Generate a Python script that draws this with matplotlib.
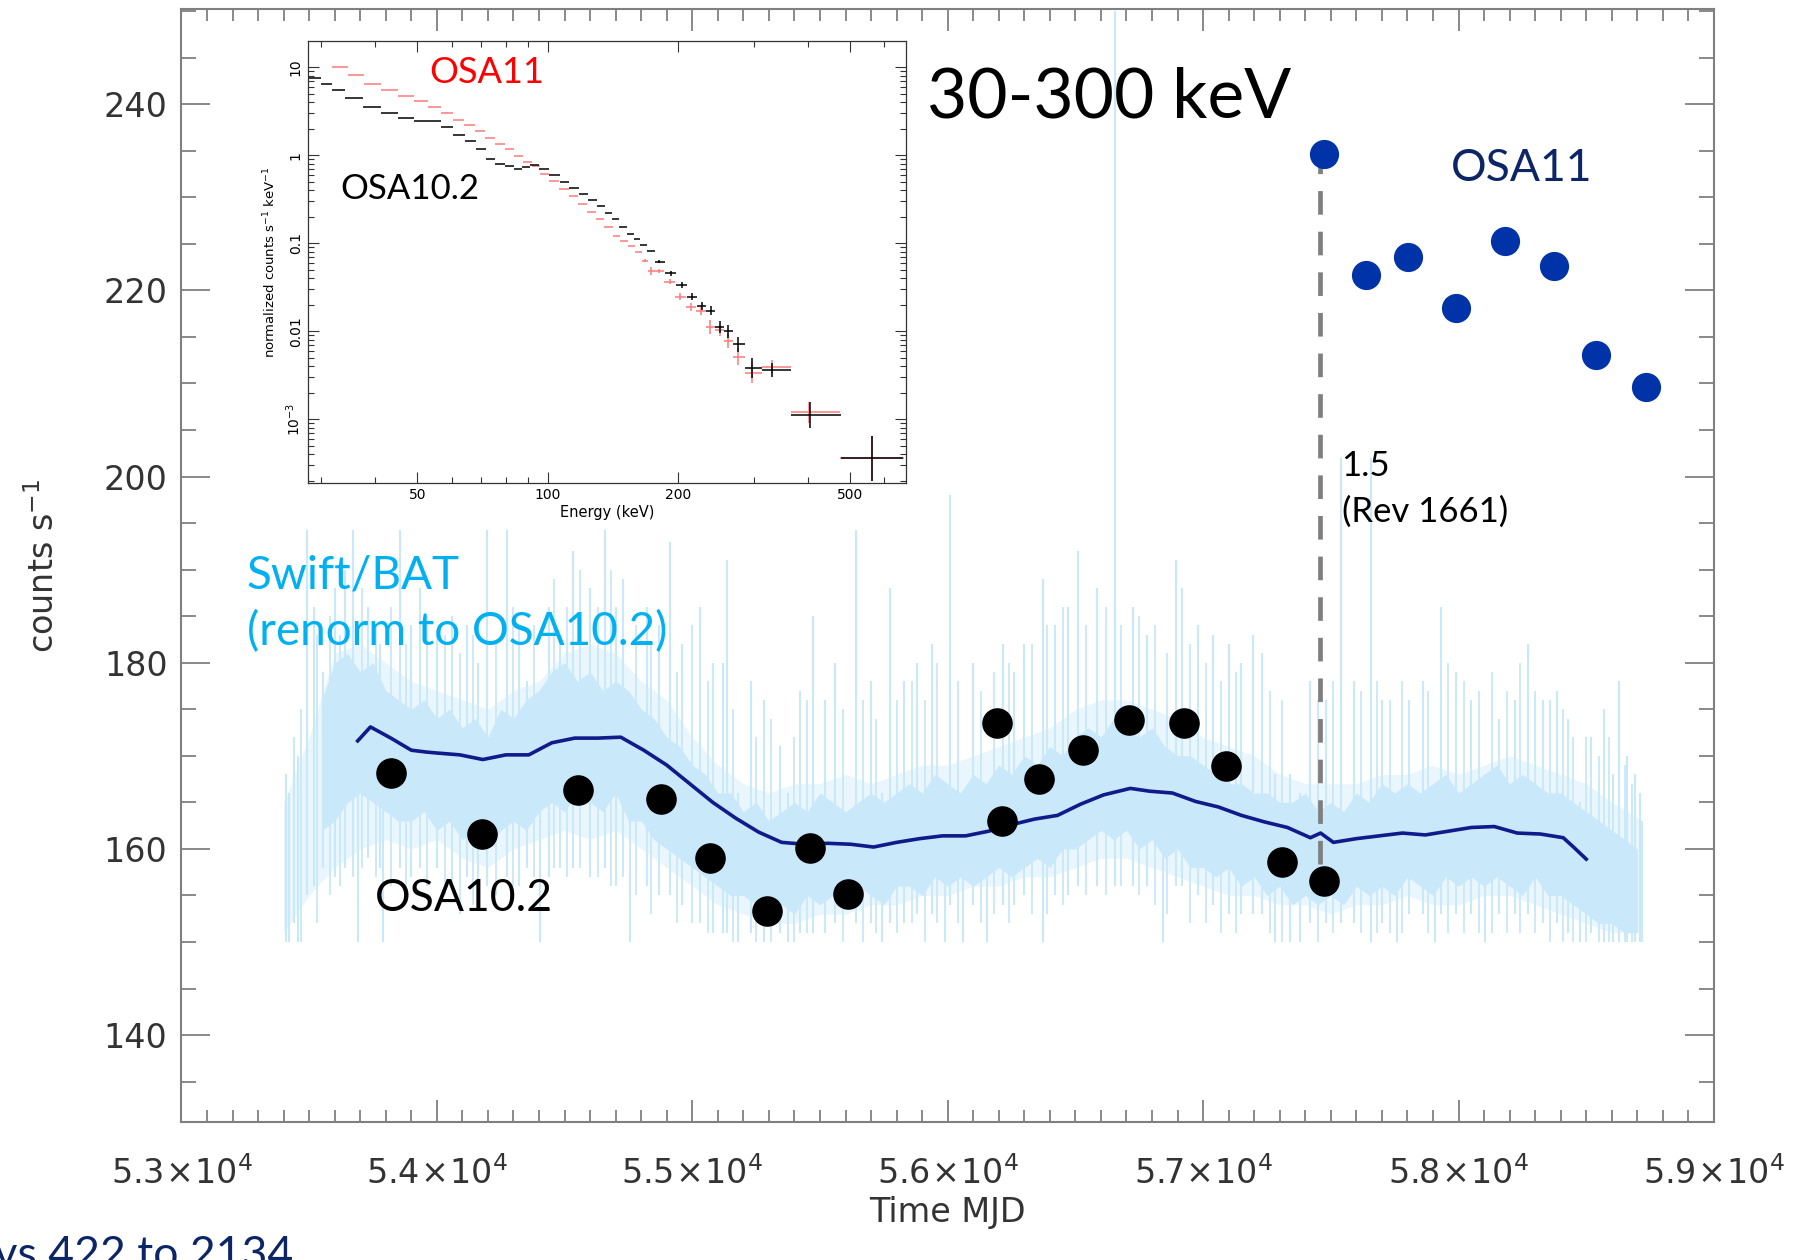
import matplotlib
matplotlib.use("Agg")
import matplotlib.pyplot as plt
from matplotlib.ticker import MultipleLocator, FuncFormatter, FixedLocator, NullFormatter
from matplotlib.patches import Rectangle
import numpy as np

plt.rcParams['font.family'] = ['DejaVu Sans']

# ---- Swift/BAT light curve (renormalised) ----
# outer (sparse) envelope
bat_x = [53400, 53500, 53600, 53700, 53800, 53900, 54000, 54100, 54200, 54300,
         54400, 54500, 54600, 54700, 54800, 54900, 55000, 55100, 55200, 55300,
         55400, 55500, 55600, 55700, 55800, 55900, 56000, 56100, 56200, 56300,
         56400, 56500, 56600, 56700, 56800, 56900, 57000, 57100, 57200, 57300,
         57400, 57500, 57600, 57700, 57800, 57900, 58000, 58100, 58200, 58300,
         58400, 58500, 58600, 58720]
bat_lo = [151, 155, 158, 160, 161, 160, 161, 159, 158, 160,
          161, 162, 161, 162, 160, 158, 156, 154, 153, 152,
          152, 153, 153, 154, 154, 155, 155, 156, 156, 157,
          157, 158, 159, 159, 158, 157, 156, 155, 155, 154,
          154, 153, 154, 154, 155, 154, 154, 155, 155, 154,
          153, 152, 151, 151]
bat_hi = [165, 172, 181, 182, 180, 178, 177, 176, 175, 177,
          178, 181, 182, 181, 178, 176, 172, 169, 167, 166,
          167, 167, 168, 167, 168, 169, 169, 170, 171, 172,
          173, 175, 176, 176, 175, 174, 172, 171, 170, 168,
          167, 167, 167, 168, 168, 169, 168, 169, 170, 169,
          168, 167, 165, 163]

# dense core of the curve, every 50 d
core_x = [53550, 53600, 53650, 53700, 53750, 53800, 53850, 53900, 53950, 54000,
          54050, 54100, 54150, 54200, 54250, 54300, 54350, 54400, 54450, 54500,
          54550, 54600, 54650, 54700, 54750, 54800, 54850, 54900, 54950, 55000,
          55050, 55100, 55150, 55200, 55250, 55300, 55350, 55400, 55450, 55500,
          55550, 55600, 55650, 55700, 55750, 55800, 55850, 55900, 55950, 56000,
          56050, 56100, 56150, 56200, 56250, 56300, 56350, 56400, 56450, 56500,
          56550, 56600, 56650, 56700, 56750, 56800, 56850, 56900, 56950, 57000,
          57050, 57100, 57150, 57200, 57250, 57300, 57350, 57400, 57450, 57500,
          57550, 57600, 57650, 57700, 57750, 57800, 57850, 57900, 57950, 58000,
          58050, 58100, 58150, 58200, 58250, 58300, 58350, 58400, 58450, 58500,
          58550, 58600, 58650, 58700]
core_lo = [162, 163, 165, 166, 165, 164, 163, 163, 164, 162,
           163, 161, 162, 160, 162, 163, 162, 164, 165, 164,
           166, 165, 164, 166, 163, 163, 161, 160, 159, 158,
           157, 156, 155, 155, 154, 153, 154, 153, 155, 154,
           155, 154, 156, 155, 154, 156, 156, 155, 157, 156,
           157, 156, 157, 158, 157, 158, 159, 158, 160, 160,
           161, 162, 161, 162, 160, 161, 159, 160, 158, 158,
           157, 158, 156, 157, 155, 156, 154, 155, 154, 155,
           154, 156, 155, 156, 155, 157, 156, 155, 157, 156,
           157, 156, 157, 156, 155, 157, 155, 155, 154, 153,
           152, 152, 151, 151]
core_hi = [176, 180, 181, 179, 180, 177, 176, 175, 176, 174,
           175, 173, 174, 172, 175, 174, 176, 177, 179, 180,
           178, 179, 177, 178, 177, 175, 174, 172, 171, 169,
           168, 166, 166, 164, 165, 163, 164, 165, 164, 166,
           165, 164, 165, 166, 165, 166, 167, 166, 168, 167,
           166, 168, 167, 169, 168, 170, 169, 171, 170, 172,
           173, 172, 174, 173, 172, 173, 171, 170, 170, 169,
           168, 167, 167, 166, 166, 165, 165, 166, 164, 165,
           164, 166, 165, 167, 166, 167, 166, 167, 168, 166,
           167, 168, 169, 167, 168, 167, 166, 166, 165, 164,
           163, 162, 161, 160]

# individual excursions of the curve (MJD, low, high)
spk_x = [53410, 53420, 53440, 53457, 53491, 53520, 53555, 53600, 53640, 53672,
         53692, 53730, 53778, 53790, 53856, 53900, 53934, 54000, 54060, 54118,
         54160, 54196, 54274, 54320, 54352, 54404, 54440, 54481, 54532, 54600,
         54657, 54700, 54728, 54756, 54822, 54870, 54912, 54960, 55029, 55080,
         55120, 55135, 55178, 55230, 55280, 55343, 55374, 55420, 55473, 55520,
         55560, 55640, 55700, 55742, 55773, 55830, 55880, 55937, 55989, 56008,
         56059, 56100, 56153, 56215, 56260, 56300, 56372, 56420, 56470, 56509,
         56583, 56655, 56724, 56780, 56842, 56895, 56919, 56980, 57040, 57100,
         57150, 57196, 57230, 57280, 57339, 57378, 57420, 57480, 57541, 57590,
         57659, 57700, 57761, 57808, 57860, 57906, 57933, 57992, 58050, 58102,
         58160, 58220, 58270, 58330, 58387, 58430, 58474, 58520, 58570, 58603,
         58630, 58660, 58690, 58709]
spk_lo = [150, 150, 152, 150, 155, 156, 158, 157, 158, 157,
          150, 159, 158, 150, 158, 157, 158, 158, 156, 157,
          155, 156, 157, 156, 158, 150, 157, 158, 158, 157,
          158, 156, 157, 150, 156, 155, 155, 154, 152, 151,
          151, 151, 150, 151, 150, 151, 150, 151, 151, 151,
          152, 152, 152, 150, 152, 152, 153, 153, 150, 154,
          150, 154, 150, 154, 154, 155, 150, 155, 155, 156,
          156, 156, 156, 156, 150, 156, 156, 155, 154, 153,
          153, 153, 153, 150, 150, 150, 152, 152, 152, 152,
          150, 152, 150, 153, 153, 150, 153, 153, 153, 150,
          153, 153, 153, 152, 152, 151, 150, 151, 150, 150,
          150, 150, 150, 150]
spk_hi = [168, 166, 172, 170, 195, 186, 179, 188, 190, 195,
          170, 186, 182, 168, 195, 184, 188, 183, 185, 184,
          180, 195, 195, 184, 178, 168, 186, 183, 192, 188,
          195, 186, 189, 170, 186, 184, 193, 182, 186, 180,
          180, 191, 166, 178, 176, 171, 166, 177, 185, 176,
          180, 195, 178, 166, 188, 178, 180, 182, 167, 198,
          166, 180, 166, 182, 179, 182, 189, 184, 186, 192,
          188, 250, 186, 183, 170, 191, 188, 184, 183, 182,
          180, 183, 181, 168, 168, 166, 178, 176, 202, 178,
          202, 176, 166, 176, 178, 166, 186, 179, 176, 168,
          174, 176, 182, 176, 177, 174, 165, 172, 175, 168,
          178, 170, 168, 166]

spk2_x = [53470, 53530, 53580, 53620, 53705, 53760, 53820, 53880, 53960, 54030,
          54090, 54140, 54230, 54300, 54380, 54460, 54510, 54560, 54630, 54680,
          54780, 54840, 54940, 55000, 55060, 55160, 55250, 55310, 55400, 55450,
          55590, 55670, 55720, 55800, 55860, 55910, 55960, 56040, 56130, 56180,
          56240, 56330, 56390, 56450, 56540, 56620, 56680, 56750, 56810, 56860,
          56950, 57010, 57070, 57130, 57260, 57310, 57450, 57510, 57620, 57680,
          57730, 57780, 57880, 57960, 58020, 58080, 58130, 58190, 58240, 58300,
          58360, 58410, 58450, 58500, 58550, 58590, 58650, 58680, 58720]
spk2_lo = [150, 152, 155, 156, 158, 157, 156, 155, 156, 155,
           153, 154, 155, 156, 157, 158, 157, 158, 157, 156,
           155, 153, 152, 152, 151, 150, 150, 150, 150, 151,
           150, 150, 151, 151, 152, 150, 152, 152, 152, 153,
           152, 153, 153, 154, 155, 155, 156, 155, 154, 153,
           152, 152, 151, 151, 151, 150, 150, 151, 151, 151,
           151, 151, 151, 151, 151, 151, 151, 151, 151, 151,
           150, 150, 150, 150, 150, 150, 150, 150, 150]
spk2_hi = [175, 183, 185, 183, 188, 184, 186, 182, 185, 183,
           181, 183, 182, 186, 184, 189, 186, 190, 186, 190,
           184, 182, 179, 184, 178, 175, 172, 174, 172, 176,
           175, 176, 174, 176, 178, 176, 180, 178, 177, 179,
           180, 182, 184, 186, 184, 186, 184, 185, 184, 181,
           182, 180, 178, 179, 177, 176, 176, 178, 177, 178,
           176, 178, 177, 180, 178, 177, 179, 177, 180, 177,
           176, 175, 172, 172, 170, 172, 169, 167, 163]

# running mean of BAT
sm_x = [53690, 53740, 53820, 53900, 53960, 54000, 54090, 54180, 54270, 54360,
        54450, 54540, 54630, 54720, 54810, 54900, 54990, 55080, 55170, 55260,
        55350, 55440, 55530, 55620, 55710, 55800, 55890, 55980, 56070, 56160,
        56250, 56340, 56430, 56520, 56610, 56715, 56790, 56880, 56970, 57060,
        57150, 57240, 57330, 57420, 57460, 57510, 57600, 57690, 57780, 57870,
        57960, 58050, 58140, 58230, 58320, 58410, 58450, 58500]
sm_y = [171.6, 173.1, 171.9, 170.6, 170.4, 170.3, 170.1, 169.6, 170.1, 170.1,
        171.4, 171.9, 171.9, 172.0, 170.6, 169.0, 167.0, 165.0, 163.3, 161.8,
        160.7, 160.5, 160.6, 160.5, 160.2, 160.7, 161.1, 161.4, 161.4, 161.9,
        162.6, 163.2, 163.6, 164.8, 165.8, 166.5, 166.2, 166.0, 165.1, 164.5,
        163.6, 162.9, 162.3, 161.2, 161.7, 160.7, 161.1, 161.4, 161.7, 161.5,
        161.9, 162.3, 162.4, 161.7, 161.6, 161.2, 160.2, 158.9]

# ISGRI 30-300 keV fluxes
osa10_x = [53822, 54177, 54554, 54878, 55071, 55291, 55462, 55610, 56194, 56212,
           56356, 56531, 56711, 56926, 57088, 57308, 57474]
osa10_y = [168.1, 161.6, 166.3, 165.4, 159.0, 153.3, 160.1, 155.2, 173.5, 163.0,
           167.5, 170.6, 173.8, 173.5, 168.9, 158.6, 156.5]
osa11_x = [57474, 57636, 57802, 57991, 58180, 58373, 58539, 58732]
osa11_y = [234.6, 221.6, 223.6, 218.1, 225.3, 222.6, 213.1, 209.6]

rev1661_mjd = 57457
rev1661_lo, rev1661_hi = 158.4, 233.4

# ---- inset spectra ----
blk_E = [28.9, 30.9, 32.7, 35.6, 39.4, 43.2, 47.0, 51.1, 55.0, 58.5,
         62.6, 66.3, 70.2, 73.9, 77.7, 81.6, 85.5, 89.1, 93.3, 98.0,
         103.8, 109.4, 114.8, 121.1, 126.8, 132.8, 138.2, 143.7, 149.5, 155.1,
         160.9, 166.6, 172.5, 181.1, 192.3, 204.1, 215.3, 227.1, 238.4, 249.6,
         261.4, 275.6, 296.1, 330.7, 404.4, 562.6]
blk_F = [7.5, 6.47, 5.54, 4.49, 3.50, 3.03, 2.62, 2.44, 2.48, 2.10,
         1.72, 1.45, 1.165, 0.913, 0.787, 0.753, 0.70, 0.741, 0.78, 0.70,
         0.59, 0.50, 0.424, 0.366, 0.307, 0.263, 0.223, 0.19, 0.153, 0.129,
         0.113, 0.095, 0.082, 0.062, 0.0457, 0.0337, 0.0248, 0.0193, 0.0171, 0.0112,
         0.0100, 0.0071, 0.00382, 0.00363, 0.00113, 3.6e-4]
blk_dex = [0] * 33 + [0.02, 0.03, 0.03, 0.04, 0.045, 0.05, 0.07, 0.07, 0.085,
                      0.11, 0.08, 0.15, 0.25]
red_E = [33.1, 36.0, 39.6, 43.1, 47.1, 51.3, 54.7, 58.5, 62.2, 65.9,
         69.8, 73.5, 77.6, 81.6, 85.9, 89.9, 94.0, 98.2, 103.0, 109.4,
         114.8, 120.5, 126.8, 132.2, 138.2, 144.7, 149.8, 156.2, 162.0, 167.8,
         172.9, 180.6, 191.8, 202.7, 214.8, 226.5, 237.8, 249.6, 261.4, 275.6,
         296.1, 330.7, 400.7, 562.6]
red_F = [10.1, 8.19, 6.53, 5.54, 4.77, 4.12, 3.5, 3.03, 2.55, 2.2,
         1.88, 1.58, 1.35, 1.165, 0.98, 0.844, 0.747, 0.617, 0.505, 0.41,
         0.341, 0.277, 0.225, 0.19, 0.153, 0.12, 0.106, 0.0933, 0.0804, 0.0636,
         0.0486, 0.0488, 0.0367, 0.0246, 0.0191, 0.0171, 0.0112, 0.0103, 0.0078, 0.00518,
         0.0034, 0.00396, 0.0012, 3.6e-4]
red_dex = [0] * 29 + [0.02, 0.05, 0.02, 0.03, 0.04, 0.045, 0.05, 0.075, 0.06,
                      0.08, 0.1, 0.12, 0.08, 0.12, 0.25]


def bin_err(E, F, dex):
    E = np.array(E); F = np.array(F); dex = np.array(dex)
    mid = np.sqrt(E[1:] * E[:-1])
    lo_edge = np.concatenate([[E[0] ** 2 / mid[0]], mid])
    hi_edge = np.concatenate([mid, [E[-1] ** 2 / mid[-1]]])
    xerr = [E - lo_edge, hi_edge - E]
    yerr = [F * (1 - 10 ** -dex), F * (10 ** dex - 1)]
    return E, F, xerr, yerr


light = '#c9e8f9'
pale = '#e9f6fd'
navy_txt = '#0b2566'

fig = plt.figure(figsize=(18, 12.6), dpi=100)
ax = fig.add_axes([0.1008, 0.1098, 0.8514, 0.8829])

ax.fill_between(bat_x, bat_lo, bat_hi, color=pale, lw=0, zorder=1)
ax.vlines(spk_x, spk_lo, spk_hi, color=light, lw=1.5, zorder=1)
ax.vlines(spk2_x, spk2_lo, spk2_hi, color=light, lw=1.3, zorder=1)
ax.fill_between(core_x, core_lo, core_hi, color=light, lw=0, zorder=1)
ax.plot(sm_x, sm_y, color='#101a8a', lw=2.6, zorder=3)
ax.vlines(rev1661_mjd, rev1661_lo, rev1661_hi, color='#7f7f7f', lw=3.4,
          linestyles=(0, (5, 3.6)), zorder=4)
ax.plot(osa10_x, osa10_y, 'o', ms=21, color='black', zorder=5)
ax.plot(osa11_x, osa11_y, 'o', ms=20, color='#0033a8', zorder=5)

ax.set_xlim(53000, 59000)
ax.set_ylim(130.7, 250.2)
ax.xaxis.set_major_locator(MultipleLocator(1000))
ax.xaxis.set_minor_locator(MultipleLocator(100))
ax.yaxis.set_major_locator(MultipleLocator(20))
ax.yaxis.set_minor_locator(MultipleLocator(5))
ax.xaxis.set_major_formatter(FuncFormatter(lambda v, p: r'$%.1f\!\times\!10^{4}$' % (v / 1e4)))

ax.tick_params(which='both', direction='in', top=True, right=True, color='#808080')
ax.tick_params(axis='y', which='major', length=21, width=1.3, pad=10,
               labelsize=24, labelcolor='#333333')
ax.tick_params(axis='y', which='minor', length=11, width=1.3)
ax.tick_params(axis='x', which='major', length=16, width=1.3, pad=25,
               labelsize=24, labelcolor='#333333')
ax.tick_params(axis='x', which='minor', length=8.5, width=1.3)
for s in ax.spines.values():
    s.set_color('#808080')
    s.set_linewidth(1.5)

fig.text(0.5264, 0.0375, 'Time MJD', ha='center', va='center', fontsize=24, color='#333333')
fig.text(0.0245, 0.5508, r'counts s$^{-1}$', ha='center', va='center', rotation=90,
         fontsize=24, color='#333333')

ax.text(55920, 238.6, '30-300 keV', fontsize=50, family='Lato', color='black', zorder=6)
ax.text(58247, 231.7, 'OSA11', fontsize=32, family='Lato', color=navy_txt,
        ha='center', zorder=6)
ax.text(57542, 200.1, '1.5', fontsize=25, family='Lato', color='black', zorder=6)
ax.text(57542, 195.1, '(Rev 1661)', fontsize=25, family='Lato', color='black', zorder=6)
ax.text(53256, 188.0, 'Swift/BAT', fontsize=33, family='Lato', color='#00b0f0', zorder=6)
ax.text(53256, 181.9, '(renorm to OSA10.2)', fontsize=33, family='Lato',
        color='#00b0f0', zorder=6)
ax.text(53759, 153.3, 'OSA10.2', fontsize=32, family='Lato', color='black', zorder=6)

fig.text(0.163, -0.006, 'Revs 422 to 2134', ha='right', va='baseline',
         fontsize=32, family='Lato', color=navy_txt)

# white backing of the pasted spectrum panel
fig.add_artist(Rectangle((0.14, 0.579), 0.367, 0.392, transform=fig.transFigure,
                         facecolor='white', edgecolor='none', zorder=2))

ins = fig.add_axes([0.1709, 0.6164, 0.3323, 0.3508], zorder=3)
ins.set_xscale('log')
ins.set_yscale('log')
E, F, xe, ye = bin_err(red_E, red_F, red_dex)
ins.errorbar(E, F, xerr=xe, yerr=ye, fmt='none', ecolor='#ff7b7b', elinewidth=1.1, capsize=0)
E, F, xe, ye = bin_err(blk_E, blk_F, blk_dex)
ins.errorbar(E, F, xerr=xe, yerr=ye, fmt='none', ecolor='black', elinewidth=1.1, capsize=0)
ins.set_xlim(27.9, 672)
ins.set_ylim(1.88e-4, 19.7)
ins.xaxis.set_major_locator(FixedLocator([50, 100, 200, 500]))
ins.xaxis.set_major_formatter(FuncFormatter(lambda v, p: '%d' % v))
ins.xaxis.set_minor_formatter(NullFormatter())
ins.yaxis.set_major_locator(FixedLocator([1e-3, 0.01, 0.1, 1, 10]))
ins.yaxis.set_major_formatter(FuncFormatter(
    lambda v, p: {1e-3: r'$10^{-3}$', 0.01: '0.01', 0.1: '0.1', 1: '1', 10: '10'}.get(
        round(v, 4) if v < 1 else round(v), '')))
ins.tick_params(which='both', direction='in', top=True, right=True, labelsize=10,
                width=0.8, color='#333333')
ins.tick_params(which='major', length=8)
ins.tick_params(which='minor', length=4)
ins.tick_params(axis='y', labelrotation=90)
for lab in ins.get_yticklabels():
    lab.set_va('center')
for s in ins.spines.values():
    s.set_linewidth(0.9)
    s.set_color('#333333')
ins.set_xlabel('Energy (keV)', fontsize=10.5, labelpad=2)
ins.set_ylabel(r'normalized counts s$^{-1}$ keV$^{-1}$', fontsize=9.5, labelpad=4)
ins.text(0.203, 0.906, 'OSA11', transform=ins.transAxes, fontsize=26,
         family='Lato', color='#ff0000')
ins.text(0.054, 0.644, 'OSA10.2', transform=ins.transAxes, fontsize=25,
         family='Lato', color='black')

fig.savefig('out.png', dpi=100)
